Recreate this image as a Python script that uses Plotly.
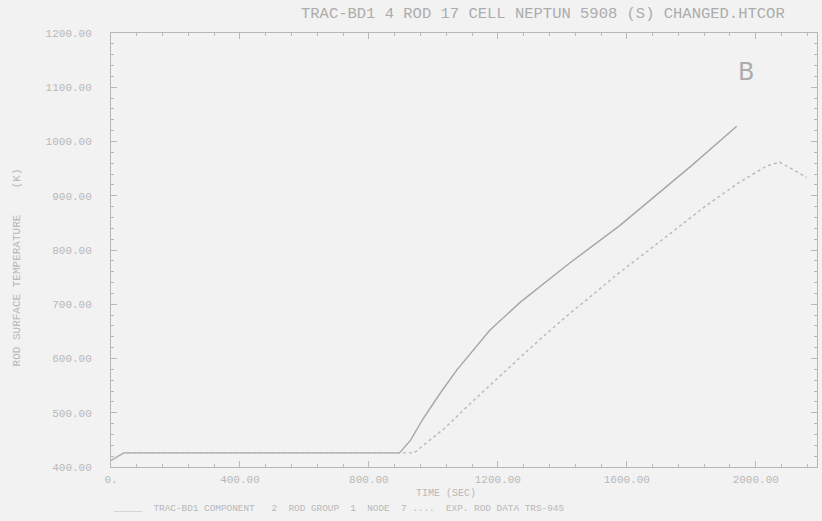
import plotly.graph_objects as go

# --- data ---
calc_time = [0, 40, 895, 930, 967, 1020, 1073, 1175, 1268, 1423, 1578, 1700, 1800, 1941]
calc_temp = [412, 426, 426, 450, 488, 535, 579, 652, 703, 776, 845, 905, 955, 1028]

exp_time = [0, 40, 940, 992, 1036, 1116, 1200, 1271, 1330, 1417, 1479, 1572, 1680, 1733, 1842, 1950, 2034, 2074, 2158]
exp_temp = [412, 426, 426, 450, 472, 518, 565, 603, 635, 680, 710, 756, 805, 830, 880, 925, 955, 962, 934]

x_tick_vals = [0, 400, 800, 1200, 1600, 2000]
x_tick_text = ["0.", "400.00", "800.00", "1200.00", "1600.00", "2000.00"]
y_tick_vals = [400, 500, 600, 700, 800, 900, 1000, 1100, 1200]
y_tick_text = ["400.00", "500.00", "600.00", "700.00", "800.00", "900.00", "1000.00", "1100.00", "1200.00"]

title_text = "TRAC-BD1 4 ROD 17 CELL NEPTUN 5908 (S) CHANGED.HTCOR"
legend_text = "_____  TRAC-BD1 COMPONENT   2  ROD GROUP  1  NODE  7 ....  EXP. ROD DATA TRS-945"

BG = "#f2f2f2"
INK = "#b8b8b8"
LINE = "#a6a6a6"
FONT = "Liberation Mono"

fig = go.Figure()
fig.add_trace(go.Scatter(x=calc_time, y=calc_temp, mode="lines",
                         line=dict(color=LINE, width=1.4), showlegend=False))
fig.add_trace(go.Scatter(x=exp_time, y=exp_temp, mode="lines",
                         line=dict(color="#b8b8b8", width=1.4, dash="dot"), showlegend=False))

axis_common = dict(showgrid=False, zeroline=False, showline=True, linecolor=INK, linewidth=1,
                   mirror="ticks", ticks="inside", tickcolor=INK, ticklen=6, automargin=False,
                   tickfont=dict(family=FONT, size=11, color=INK))

fig.update_xaxes(range=[0, 2190], tickvals=x_tick_vals, ticktext=x_tick_text,
                 minor=dict(dtick=80, tick0=0, ticks="inside", ticklen=3, tickcolor=INK),
                 ticklabelstandoff=2, **axis_common)
fig.update_yaxes(range=[400, 1200], tickvals=y_tick_vals, ticktext=y_tick_text,
                 minor=dict(dtick=20, tick0=400, ticks="inside", ticklen=3, tickcolor=INK),
                 ticklabelstandoff=16, **axis_common)

fig.update_layout(
    width=822, height=521,
    margin=dict(l=111, r=5, t=33, b=54),
    paper_bgcolor=BG, plot_bgcolor=BG,
    font=dict(family=FONT, color=INK),
    annotations=[
        dict(text=title_text, xref="paper", yref="paper", x=0.612, y=1.0, yshift=8,
             xanchor="center", yanchor="bottom", showarrow=False,
             font=dict(family=FONT, size=15.5, color="#acacac")),
        dict(text="B", xref="paper", yref="paper", x=0.90, y=0.91,
             xanchor="center", yanchor="middle", showarrow=False,
             font=dict(family="DejaVu Sans", size=24, color="#acacac")),
        dict(text="ROD SURFACE TEMPERATURE    (K)", xref="paper", yref="paper", x=-0.133, y=0.46,
             xanchor="center", yanchor="middle", textangle=-90, showarrow=False,
             font=dict(family=FONT, size=11, color=INK)),
        dict(text="TIME (SEC)", xref="paper", yref="paper", x=0.475, y=0, yshift=-19,
             xanchor="center", yanchor="top", showarrow=False,
             font=dict(family=FONT, size=10, color=INK)),
        dict(text=legend_text, xref="paper", yref="paper", x=0.0, y=0, yshift=-34,
             xanchor="left", yanchor="top", showarrow=False,
             font=dict(family=FONT, size=9.4, color=INK)),
    ],
)

fig.write_html("out.html", config={"displayModeBar": False},
               post_script="document.body.style.margin='0';document.body.style.background='#f2f2f2';")
